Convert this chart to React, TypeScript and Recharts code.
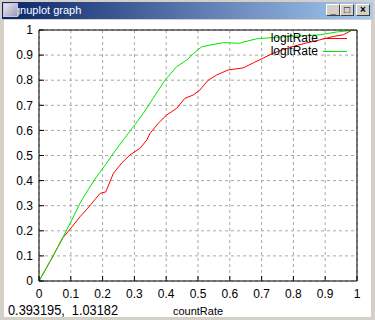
import React from 'react';
import { LineChart, Line, XAxis, YAxis, CartesianGrid } from 'recharts';

const xTicks = [0, 0.1, 0.2, 0.3, 0.4, 0.5, 0.6, 0.7, 0.8, 0.9, 1];
const yTicks = [0, 0.1, 0.2, 0.3, 0.4, 0.5, 0.6, 0.7, 0.8, 0.9, 1];

const seriesNames = ['logitRate', 'logitRate'];
const xAxisTitle = 'countRate';
const windowTitle = 'gnuplot graph';
const statusText = '0.393195,  1.03182';

const redX = [0, 0.04, 0.075, 0.1, 0.129, 0.16, 0.192, 0.21, 0.234, 0.26, 0.286, 0.318, 0.339, 0.349, 0.375, 0.401, 0.433, 0.459, 0.485, 0.506, 0.532, 0.559, 0.595, 0.642, 0.674, 0.705, 0.737, 0.768, 0.8, 0.84, 0.884, 0.925, 0.957, 0.985, 1];
const redY = [0, 0.09, 0.172, 0.21, 0.256, 0.3, 0.349, 0.355, 0.429, 0.47, 0.502, 0.529, 0.562, 0.588, 0.628, 0.661, 0.688, 0.728, 0.741, 0.761, 0.8, 0.821, 0.841, 0.849, 0.869, 0.888, 0.908, 0.922, 0.935, 0.948, 0.961, 0.974, 0.981, 1.0, 1.0];

const greenX = [0, 0.04, 0.076, 0.1, 0.129, 0.155, 0.181, 0.21, 0.234, 0.265, 0.297, 0.328, 0.359, 0.396, 0.433, 0.464, 0.498, 0.512, 0.538, 0.58, 0.632, 0.642, 0.685, 0.737, 0.8, 0.884, 0.936, 0.973, 1];
const greenY = [0, 0.09, 0.176, 0.235, 0.31, 0.365, 0.415, 0.465, 0.509, 0.562, 0.615, 0.668, 0.728, 0.8, 0.854, 0.88, 0.92, 0.933, 0.94, 0.95, 0.947, 0.952, 0.965, 0.97, 0.975, 0.981, 0.992, 0.997, 1];

const redData = redX.map((x, i) => ({ x, y: redY[i] }));
const greenData = greenX.map((x, i) => ({ x, y: greenY[i] }));

const RED = '#ff0000';
const GREEN = '#00e800';
const FONT = '"Liberation Sans", Arial, sans-serif';

const fmt = (v: number) => String(Number(v.toFixed(1)));

const tickStyle = { fill: '#000', fontSize: 12, fontFamily: FONT };

function WinButton({ left, children }: { left: number; children: React.ReactNode }) {
  return (
    <div
      style={{
        position: 'absolute',
        left,
        top: 4,
        width: 14,
        height: 12,
        background: '#d4d0c8',
        borderTop: '1px solid #fff',
        borderLeft: '1px solid #fff',
        borderRight: '1px solid #404040',
        borderBottom: '1px solid #404040',
        boxSizing: 'border-box',
        fontFamily: FONT,
        fontSize: 10,
        fontWeight: 'bold',
        lineHeight: '10px',
        textAlign: 'center',
        color: '#000',
      }}
    >
      {children}
    </div>
  );
}

export default function App() {
  return (
    <div style={{ position: 'fixed', left: 0, top: 0, width: 375, height: 320, background: '#d4d0c8', overflow: 'hidden' }}>
      {/* title bar */}
      <div
        style={{
          position: 'absolute',
          left: 2,
          top: 2,
          width: 371,
          height: 17,
          background: 'linear-gradient(to right, #0a246a, #a6caf0)',
        }}
      />
      <div
        style={{
          position: 'absolute',
          left: 14,
          top: 3,
          height: 15,
          lineHeight: '15px',
          color: '#fff',
          fontFamily: FONT,
          fontSize: 11,
          whiteSpace: 'pre',
        }}
      >
        {windowTitle}
      </div>
      <div
        style={{
          position: 'absolute',
          left: 3,
          top: 3,
          width: 15,
          height: 14,
          background: 'linear-gradient(135deg, #e8e8f0, #9a9ab8)',
          border: '1px solid #c8c8d8',
          boxSizing: 'border-box',
        }}
      />
      <WinButton left={326}>_</WinButton>
      <WinButton left={340}>□</WinButton>
      <WinButton left={356}>×</WinButton>
      {/* client area */}
      <div style={{ position: 'absolute', left: 4, top: 20, width: 367, height: 297, background: '#fff' }} />

      <div style={{ position: 'absolute', left: 0, top: 0 }}>
        <LineChart width={375} height={320} margin={{ top: 29, right: 17, left: 0, bottom: 0 }}>
          <CartesianGrid stroke="#a8a8a8" strokeDasharray="3 3" />
          <XAxis
            dataKey="x"
            type="number"
            domain={[0, 1]}
            ticks={xTicks}
            tickFormatter={fmt}
            height={39}
            tick={tickStyle}
            tickSize={-5}
            tickMargin={13}
            axisLine={{ stroke: '#000' }}
            tickLine={{ stroke: '#000' }}
            allowDataOverflow
            label={{ value: xAxisTitle, position: 'insideBottom', offset: 5, fill: '#000', fontSize: 11, fontFamily: FONT }}
          />
          <XAxis
            xAxisId="top"
            orientation="top"
            type="number"
            domain={[0, 1]}
            ticks={xTicks}
            height={1}
            tick={false}
            tickSize={-5}
            axisLine={{ stroke: '#000' }}
            tickLine={{ stroke: '#000' }}
            allowDataOverflow
          />
          <YAxis
            type="number"
            domain={[0, 1]}
            ticks={yTicks}
            tickFormatter={fmt}
            width={39}
            tick={tickStyle}
            tickSize={-5}
            tickMargin={11}
            axisLine={{ stroke: '#000' }}
            tickLine={{ stroke: '#000' }}
            allowDataOverflow
          />
          <YAxis
            yAxisId="right"
            orientation="right"
            type="number"
            domain={[0, 1]}
            ticks={yTicks}
            width={1}
            tick={false}
            tickSize={-5}
            axisLine={{ stroke: '#000' }}
            tickLine={{ stroke: '#000' }}
            allowDataOverflow
          />
          <Line data={redData} dataKey="y" type="linear" stroke={RED} strokeWidth={1} dot={false} isAnimationActive={false} />
          <Line data={greenData} dataKey="y" type="linear" stroke={GREEN} strokeWidth={1} dot={false} isAnimationActive={false} />
        </LineChart>
      </div>

      {/* legend */}
      {[RED, GREEN].map((c, i) => (
        <div key={i} style={{ position: 'absolute', left: 0, top: 31 + i * 13, width: 375, height: 14 }}>
          <div
            style={{
              position: 'absolute',
              right: 375 - 318,
              top: 0,
              lineHeight: '14px',
              fontFamily: FONT,
              fontSize: 12,
              color: '#000',
              whiteSpace: 'nowrap',
            }}
          >
            {seriesNames[i]}
          </div>
          <div style={{ position: 'absolute', left: 323, top: 7, width: 24, height: 1, background: c }} />
        </div>
      ))}

      <svg style={{ position: 'absolute', left: 0, top: 300 }} width={200} height={18}>
        <text x={8} y={15} fontSize={15} fontFamily={FONT} fill="#000" textLength={110} lengthAdjust="spacingAndGlyphs" xmlSpace="preserve">
          {statusText}
        </text>
      </svg>
    </div>
  );
}
